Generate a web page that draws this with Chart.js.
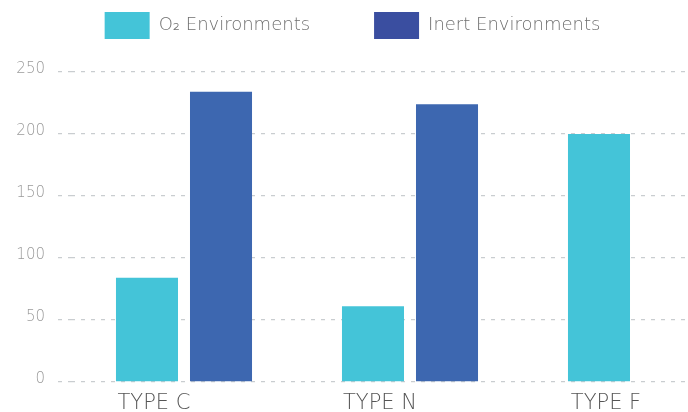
<!DOCTYPE html>
<html>
<head>
<meta charset="utf-8">
<script src="https://cdn.jsdelivr.net/npm/chart.js@4"></script>
<style>
  body { margin: 0; background: #fff; overflow: hidden; }
  /* plot runs past the right edge, like the original */
  #wrap { width: 760px; height: 412px; position: relative; }
</style>
</head>
<body>
<div id="wrap"><canvas id="chart"></canvas></div>
<script>
// data
const categories = ['TYPE C', 'TYPE N', 'TYPE F'];
const seriesNames = ['O\u2082 Environments', 'Inert Environments'];
const o2Values = [84, 61, 200];
const inertValues = [234, 224, null];
const yTicks = [0, 50, 100, 150, 200, 250];

const barColors = ['#44c4d8', '#3d67b0'];
const legendColors = ['#44c4d8', '#3a4ea0'];
const gridColor = '#c9cdd0';

// legend sits higher and further left than chart.js would put it
const legendPlacement = {
    id: 'legendPlacement',
    beforeInit(chart) {
        const fit = chart.legend.fit;
        chart.legend.fit = function () {
            fit.call(this);
            this.height += 23;
        };
    },
    afterLayout(chart) {
        chart.legend.left -= 30;
        chart.legend.right -= 30;
    }
};

const ctx = document.getElementById('chart').getContext('2d');
new Chart(ctx, {
    type: 'bar',
    data: {
        labels: categories,
        datasets: [
            { label: seriesNames[0], data: o2Values, backgroundColor: barColors[0] },
            { label: seriesNames[1], data: inertValues, backgroundColor: barColors[1] }
        ]
    },
    options: {
        responsive: true,
        maintainAspectRatio: false,
        animation: false,
        categoryPercentage: 0.655,
        barPercentage: 0.838,
        layout: { padding: { left: 16, right: 11, top: -52, bottom: -13 } },
        plugins: {
            tooltip: { enabled: false },
            legend: {
                position: 'top',
                labels: {
                    boxWidth: 45,
                    boxHeight: 27,
                    padding: 64,
                    color: '#6f6f6f',
                    font: { family: 'DejaVu Sans', size: 18, weight: 300 },
                    generateLabels(chart) {
                        const items = Chart.defaults.plugins.legend.labels.generateLabels(chart);
                        items.forEach((item, i) => {
                            item.fillStyle = legendColors[i];
                            item.strokeStyle = legendColors[i];
                            item.lineWidth = 0;
                        });
                        return items;
                    }
                }
            }
        },
        scales: {
            x: {
                grid: { display: false, drawTicks: false },
                border: { display: false },
                ticks: {
                    padding: 11,
                    labelOffset: -30,
                    color: '#555',
                    font: { family: 'DejaVu Sans', size: 21, weight: 300, lineHeight: 1 }
                }
            },
            y: {
                min: yTicks[0],
                max: yTicks[yTicks.length - 1],
                afterBuildTicks(scale) {
                    scale.ticks = yTicks.map(v => ({ value: v }));
                },
                afterFit(scale) {
                    scale.width = 55;
                },
                border: { display: false, dash: [4, 6] },
                grid: {
                    color: gridColor,
                    lineWidth: 1.3,
                    tickColor: gridColor,
                    tickWidth: 1.3,
                    tickBorderDash: [4, 6],
                    tickLength: 13
                },
                ticks: {
                    padding: 13,
                    labelOffset: -3,
                    color: '#9a9a9a',
                    font: { family: 'DejaVu Sans', size: 15, weight: 300 }
                }
            }
        }
    },
    plugins: [legendPlacement]
});
</script>
</body>
</html>
